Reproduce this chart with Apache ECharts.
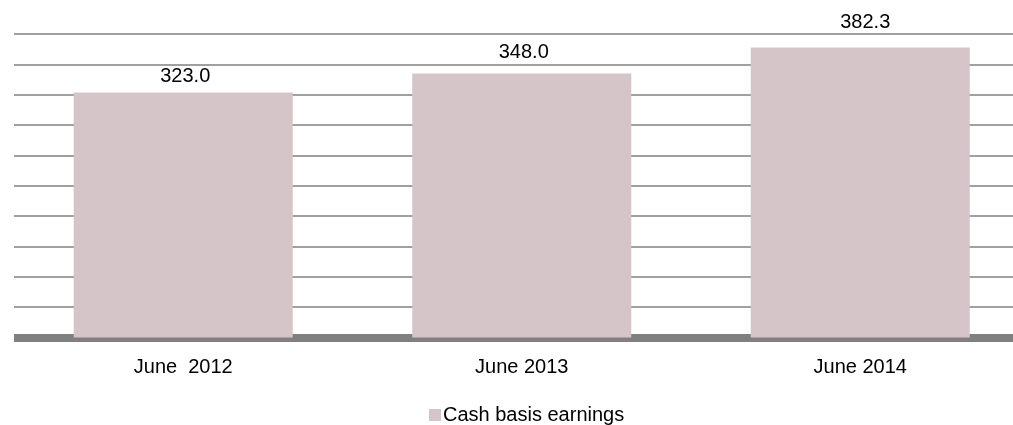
<!DOCTYPE html>
<html>
<head>
<meta charset="utf-8">
<script src="https://cdn.jsdelivr.net/npm/echarts@6/dist/echarts.min.js"></script>
<style>
  html, body { margin: 0; padding: 0; background: #fff; }
  #main { width: 1013px; height: 425px; }
</style>
</head>
<body>
<div id="main"></div>
<script>
const categories = ['June  2012', 'June 2013', 'June 2014'];
const seriesName = 'Cash basis earnings';
const earnings = [323.0, 348.0, 382.3];

// label gap above each bar differs a little in the original
const labelGap = [6, 11, 15];
const labelShift = [2, 2, 5];

const chart = echarts.init(document.getElementById('main'));
const option = {
    animation: false,
    grid: {
        left: 14,
        width: 1015.5,
        top: 34,
        height: 303.5,
        outerBoundsMode: 'none'
    },
    legend: {
        data: [seriesName],
        left: 424,
        top: 400,
        itemWidth: 12,
        itemHeight: 12,
        icon: 'rect',
        textStyle: {
            fontFamily: 'Liberation Sans, Arial',
            fontSize: 20,
            color: '#000',
            padding: [0, 0, 0, -3]
        }
    },
    xAxis: {
        type: 'category',
        data: categories,
        offset: 4,
        axisLine: { lineStyle: { color: '#808080', width: 8, cap: 'butt' } },
        axisTick: { show: false },
        axisLabel: {
            margin: 16,
            fontFamily: 'Liberation Sans, Arial',
            fontSize: 20,
            color: '#000'
        }
    },
    yAxis: {
        type: 'value',
        min: 0,
        max: 400,
        interval: 40,
        axisLine: { show: false },
        axisTick: { show: false },
        axisLabel: { show: false },
        splitLine: { lineStyle: { color: '#a0a0a0', width: 2 } }
    },
    series: [{
        name: seriesName,
        type: 'bar',
        data: earnings.map((v, i) => ({
            value: v,
            label: { distance: labelGap[i], offset: [labelShift[i], 0] }
        })),
        barWidth: '64.7%',
        itemStyle: { color: '#d5c5c9' },
        label: {
            show: true,
            position: 'top',
            formatter: p => p.value.toFixed(1),
            fontFamily: 'Liberation Sans, Arial',
            fontSize: 20,
            color: '#000'
        }
    }]
};
chart.setOption(option);
</script>
</body>
</html>
